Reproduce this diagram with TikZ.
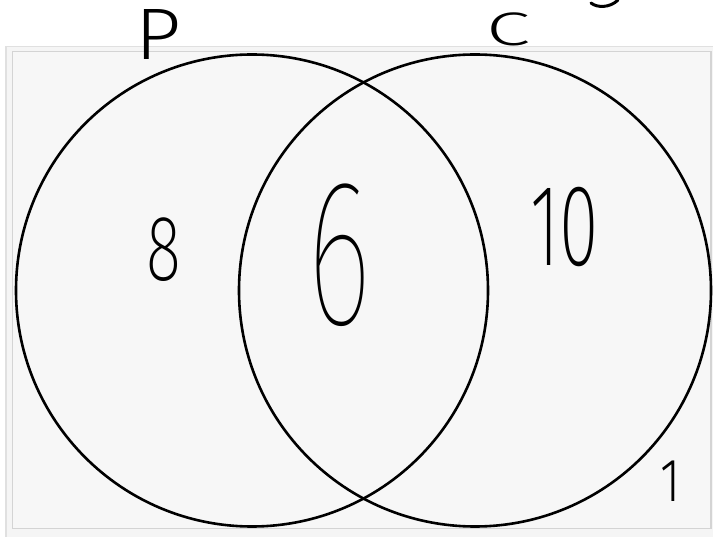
\documentclass[tikz,border=0pt]{standalone}
\usepackage{graphicx}
\usepackage{fontspec}
\newfontfamily\handt{Fira Sans Thin}
\newfontfamily\handxl{Fira Sans ExtraLight}
\newfontfamily\handl{Fira Sans Light}
\begin{document}
\begin{tikzpicture}[x=1pt,y=-1pt,
  ring/.style={draw=black,line width=2.6pt},
  lbl/.style={inner sep=0pt,outer sep=0pt,anchor=center,text=black}]
\useasboundingbox (0,0) rectangle (713,537);
\fill[white] (0,0) rectangle (713,537);
% frame
\draw[draw=black!12,fill=black!4,line width=1.5pt] (6,46.5) rectangle (720,545);
\draw[draw=black!17,fill=black!3,line width=1.5pt] (12.5,51.5) rectangle (711,528.5);
% circles
\node[ring,circle,minimum size=472pt,inner sep=0pt] (P) at (252,290.5) {};
\node[ring,circle,minimum size=472pt,inner sep=0pt] (C) at (475,290.5) {};
% labels
\node[lbl] (lp) at (158,35) {\handl\fontsize{73}{73}\selectfont\scalebox{1.1}[1]{P}};
\node[lbl] (lc) at (508,29) {\handl\fontsize{47}{47}\selectfont\scalebox{1.7}[1]{C}};
\node[lbl] (n8) at (164,250) {\handxl\fontsize{93}{93}\selectfont\scalebox{0.7}[1]{8}};
\node[lbl] (n6) at (340,255) {\handt\fontsize{209}{209}\selectfont\scalebox{0.6}[1]{6}};
\node[lbl] (n10) at (565,227) {\handxl\fontsize{116}{116}\selectfont\scalebox{0.62}[1]{10}};
\node[lbl] (n1) at (671,481) {\handl\fontsize{61}{61}\selectfont\scalebox{0.8}[1]{1}};
% cut-off stroke at the top edge
\draw[line width=3pt,line cap=round] (591,3) .. controls (597,8) and (610,8) .. (618,0);
\end{tikzpicture}
\end{document}
